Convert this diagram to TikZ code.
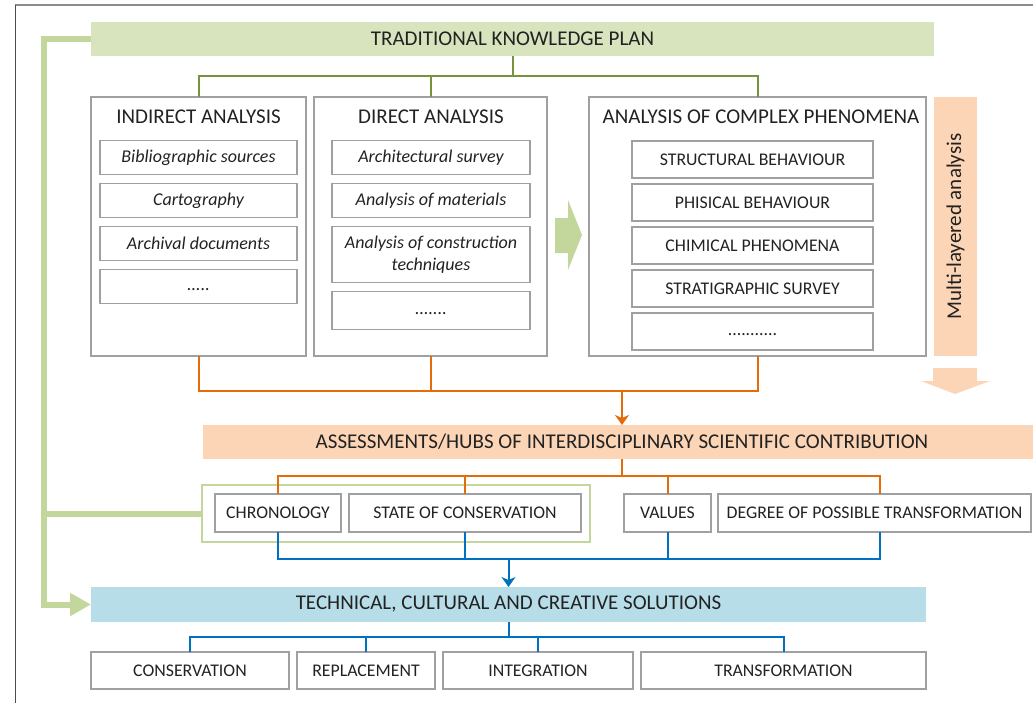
\documentclass[tikz,border=0pt]{standalone}
\usepackage{fontspec}
\setmainfont{Carlito}
\usetikzlibrary{arrows.meta,positioning}

\definecolor{plangreen}{HTML}{D7E4BD}
\definecolor{planline}{HTML}{77933C}
\definecolor{loopgreen}{HTML}{C3D69B}
\definecolor{hubpeach}{HTML}{FBD5B5}
\definecolor{hubline}{HTML}{E46C0A}
\definecolor{solblue}{HTML}{B7DEE8}
\definecolor{solline}{HTML}{0070C0}
\definecolor{boxgray}{HTML}{A0A0A0}
\definecolor{inkgray}{HTML}{222222}

\begin{document}
\begin{tikzpicture}[
    x = 1pt, y = -1pt, % one unit per pixel, y pointing down
    node distance = 9pt, % gap between stacked boxes
    line join = miter
    ]

    \tikzset{
    every node/.style = {text = inkgray, inner sep = 0pt, outer sep = 0pt},
    band/.style = {minimum height = 34, font = \fontsize{21}{24}\selectfont},
    panel/.style = {draw = boxgray, line width = 1.5pt, minimum height = 259},
    paneltitle/.style = {font = \fontsize{21}{24}\selectfont},
    source/.style = {draw = boxgray, line width = 1.5pt, minimum width = 197, minimum height = 34,
        align = center, font = \fontsize{18}{22}\selectfont\itshape},
    topic/.style = {draw = boxgray, line width = 1.5pt, minimum height = 38, font = \fontsize{17.8}{21}\selectfont},
    phenomenon/.style = {topic, minimum width = 241, minimum height = 37},
    planlink/.style = {draw = planline, line width = 2pt},
    hublink/.style = {draw = hubline, line width = 2pt},
    sollink/.style = {draw = solline, line width = 2pt},
    looplink/.style = {draw = loopgreen, line width = 6pt},
    linktip/.style = {-{Stealth[length = 10pt, width = 14pt, inset = 3pt]}}
    }

    \useasboundingbox (0,0) rectangle (1033,702);
    \clip (0,0) rectangle (1033,702);

    % page frame
    \draw[draw = black!45, line width = 2pt] (1040,5) -- (15,5);
    \draw[draw = black!70, line width = 0.8pt] (15,5) -- (15,710);

    % knowledge plan
    \node[band, fill = plangreen, minimum width = 843] (plan) at (512.5,38.5) {TRADITIONAL KNOWLEDGE PLAN};

    \node[panel, minimum width = 215] (indirect) at (198.5,226.5) {};
    \node[panel, minimum width = 233] (direct) at (430.5,226.5) {};
    \node[panel, minimum width = 337] (complex) at (757.5,226.5) {};
    \node[paneltitle] (indirecttitle) at (198.5,117) {INDIRECT ANALYSIS};
    \node[paneltitle] (directtitle) at (431,117) {DIRECT ANALYSIS};
    \node[paneltitle] (complextitle) at (761,117) {ANALYSIS OF COMPLEX PHENOMENA};

    \node[source] (biblio) at (198.5,157.5) {Bibliographic sources};
    \node[source, below = of biblio] (carto) {Cartography};
    \node[source, below = of carto] (archive) {Archival documents};
    \node[source, below = of archive] (indirectmore) {\strut.....};

    \node[source, minimum width = 198] (survey) at (431,157.5) {Architectural survey};
    \node[source, minimum width = 198, below = of survey] (materials) {Analysis of materials};
    \node[source, minimum width = 198, minimum height = 56, below = of materials] (techniques) {Analysis of construction\\techniques};
    \node[source, minimum width = 198, minimum height = 38, below = of techniques] (directmore) {\strut.......};

    \node[phenomenon] (structural) at (752.5,159.5) {STRUCTURAL BEHAVIOUR};
    \node[phenomenon, below = 6pt of structural] (physical) {PHISICAL BEHAVIOUR};
    \node[phenomenon, below = 6pt of physical] (chemical) {CHIMICAL PHENOMENA};
    \node[phenomenon, below = 6pt of chemical] (strati) {STRATIGRAPHIC SURVEY};
    \node[phenomenon, below = 6pt of strati] (complexmore) {\strut...........};

    \node[fill = hubpeach, rotate = 90, minimum width = 259, minimum height = 43,
        font = \fontsize{21}{24}\selectfont] (multi) at (955.5,226.5) {Multi-layered analysis};

    % block arrows
    \fill[loopgreen] (555,218) -- (568,218) -- (568,200) -- (582,235) -- (568,270) -- (568,253) -- (555,253) -- cycle;
    \fill[hubpeach] (933,368) -- (977,368) -- (977,381) -- (990,381) -- (955,394) -- (921,381) -- (933,381) -- cycle;

    % assessments
    \node[band, fill = hubpeach, minimum width = 838] (hub) at (622,442) {ASSESSMENTS/HUBS OF INTERDISCIPLINARY SCIENTIFIC CONTRIBUTION};

    \node[draw = loopgreen, line width = 2pt, minimum width = 388, minimum height = 57] (keepframe) at (396,513.5) {};
    \node[topic, minimum width = 126] (chrono) at (278,513) {CHRONOLOGY};
    \node[topic, minimum width = 232] (state) at (465,513) {STATE OF CONSERVATION};
    \node[topic, minimum width = 87] (values) at (667.5,513) {VALUES};
    \node[topic, minimum width = 313] (degree) at (874.5,513) {DEGREE OF POSSIBLE TRANSFORMATION};

    % solutions
    \node[band, fill = solblue, minimum width = 835, minimum height = 35] (solutions) at (508.5,604.5) {TECHNICAL, CULTURAL AND CREATIVE SOLUTIONS};

    \node[topic, minimum width = 198, minimum height = 37] (conservation) at (190,670.5) {CONSERVATION};
    \node[topic, minimum width = 138, minimum height = 37, right = 8pt of conservation] (replacement) {REPLACEMENT};
    \node[topic, minimum width = 190, minimum height = 37, right = 8pt of replacement] (integration) {INTEGRATION};
    \node[topic, minimum width = 285, minimum height = 37, right = 8pt of integration] (transformation) {TRANSFORMATION};

    % plan links
    \coordinate (plansplit) at (512.5,76);
    \path[planlink] (plan.south) -- (plansplit);
    \path[planlink] (indirect.north) |- (complex.north |- plansplit) -- (complex.north);
    \path[planlink] (direct.north) -- (direct.north |- plansplit);

    % hub links
    \coordinate (hubjoin) at (622,391);
    \path[hublink] (indirect.south) |- (complex.south |- hubjoin) -- (complex.south);
    \path[hublink] (direct.south) -- (direct.south |- hubjoin);
    \path[hublink, linktip] (hubjoin) -- (hub.north);

    \coordinate (hubsplit) at (622,476);
    \coordinate (degreetop) at ([xshift = 5.5pt]degree.north);
    \coordinate (degreebottom) at ([xshift = 5.5pt]degree.south);
    \path[hublink] (hub.south) -- (hubsplit);
    \path[hublink] (chrono.north) |- (degreetop |- hubsplit) -- (degreetop);
    \path[hublink] (state.north) -- (state.north |- hubsplit);
    \path[hublink] (values.north) -- (values.north |- hubsplit);

    % solution links
    \coordinate (soljoin) at (508.5,559);
    \path[sollink] (chrono.south) |- (degreebottom |- soljoin) -- (degreebottom);
    \path[sollink] (state.south) -- (state.south |- soljoin);
    \path[sollink] (values.south) -- (values.south |- soljoin);
    \path[sollink, linktip] (soljoin) -- (solutions.north);

    \coordinate (solsplit) at (508.5,637);
    \path[sollink] (solutions.south) -- (solsplit);
    \path[sollink] (conservation.north) |- (transformation.north |- solsplit) -- (transformation.north);
    \path[sollink] (replacement.north) -- (replacement.north |- solsplit);
    \path[sollink] (integration.north) -- (integration.north |- solsplit);

    % loop back from the plan
    \coordinate (loopturn) at (44,38.5);
    \path[looplink, -{Triangle[length = 21pt, width = 22pt]}] (plan.west) -- (loopturn) |- (solutions.west);
    \path[looplink] (keepframe.west) -- (keepframe.west -| loopturn);
\end{tikzpicture}
\end{document}
